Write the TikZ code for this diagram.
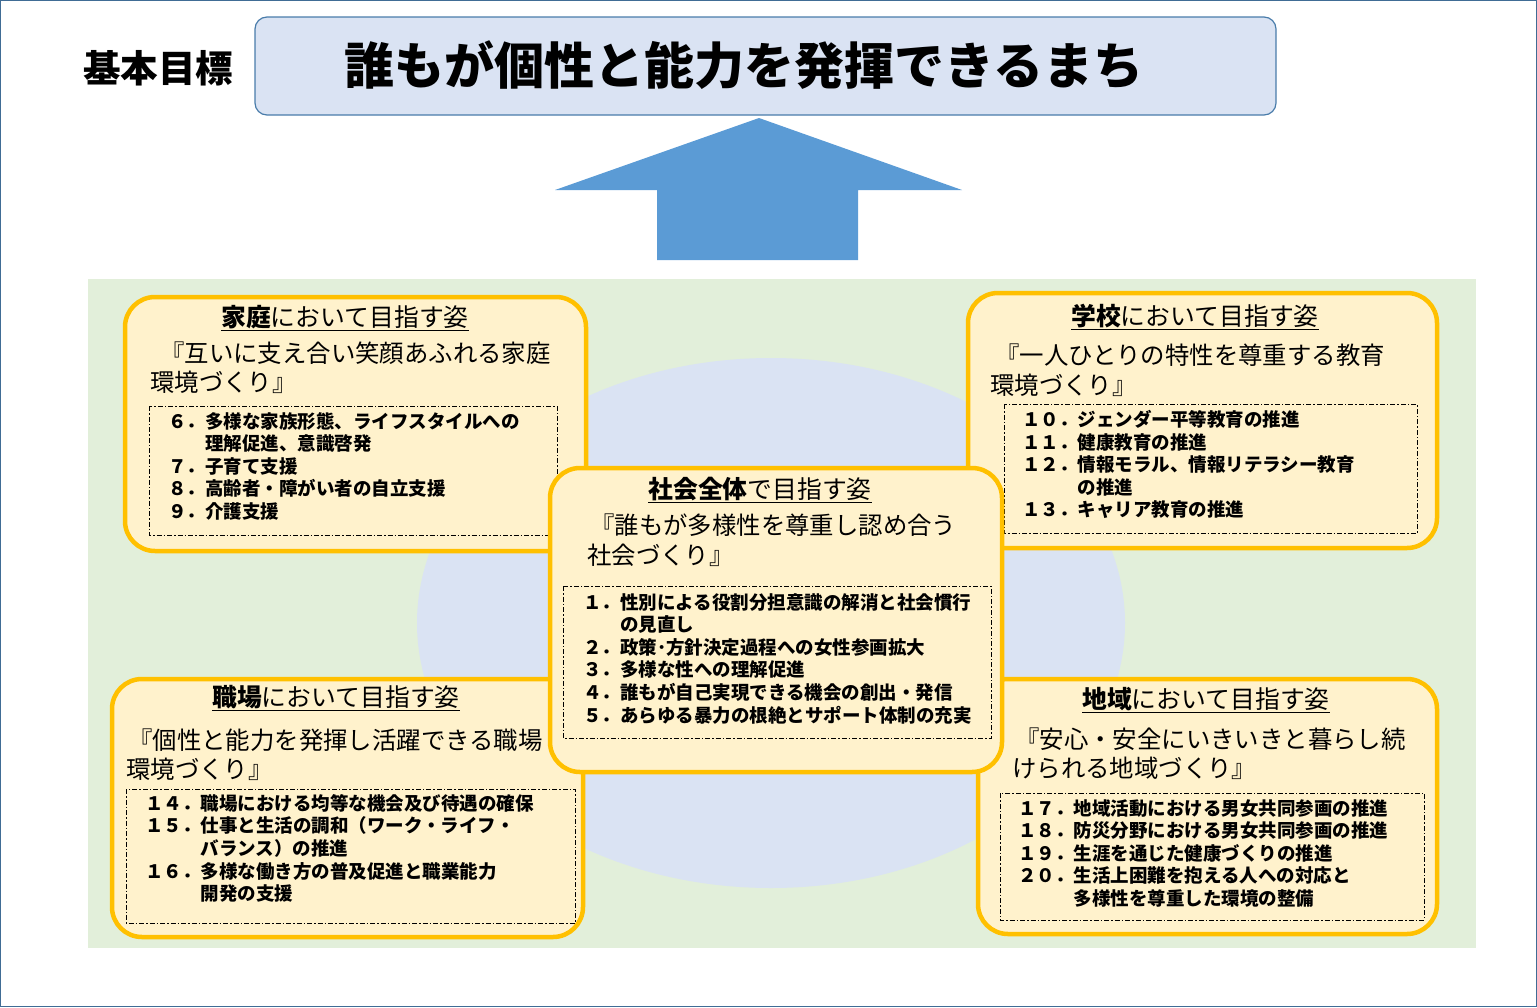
\documentclass[tikz,border=0pt]{standalone}
\usepackage{fontspec}
\setmainfont{Noto Sans CJK JP}
\begin{document}
\begin{tikzpicture}[x=1pt,y=-1pt,
 ybox/.style={draw=yel,line width=4.5pt,fill=yelf,rounded corners=30pt},
 dbox/.style={draw=black,line width=0.9pt,dash pattern=on 5pt off 2pt on 1.5pt off 2pt},
 head/.style={font=\fontsize{24.8}{28}\selectfont,inner sep=0},
 quote/.style={font=\fontsize{24.4}{28}\selectfont,anchor=west,inner sep=0},
 items/.style={font=\fontsize{18.5}{22.6}\selectfont\bfseries,anchor=north west,align=left,inner sep=0}]
\definecolor{yel}{HTML}{FFC000}\definecolor{yelf}{HTML}{FFF2CC}
\definecolor{blu}{HTML}{5B9BD5}\definecolor{lblue}{HTML}{DAE3F3}
\definecolor{grn}{HTML}{E2EFDA}
\newcommand{\ind}{\phantom{１０．}}
\path[draw=blu!70!black,line width=1pt] (0.5,0.5) rectangle (1536.5,1006.5);
\node[font=\fontsize{37.5}{40}\selectfont\bfseries] (kt) at (158,68) {基本目標};
\node[draw=blu!80!black,line width=1.2pt,fill=lblue,rounded corners=12pt,minimum width=1021pt,minimum height=98pt] (title) at (765.5,66) {};
\node[font=\fontsize{50}{54}\selectfont\bfseries] (tt) at (744,65) {誰もが個性と能力を発揮できるまち};
\fill[blu] (555,190) -- (759,118) -- (962,190) -- (858,190) -- (858,260) -- (657,260) -- (657,190) -- cycle;
\fill[grn] (88,279) rectangle (1476,948);
\fill[lblue] (771,623) ellipse [x radius=354pt,y radius=265pt];
% family
\draw[ybox] (125,297) rectangle (586,551);
\draw[dbox] (149,406) rectangle (557,535);
\node[head] (h1) at (345,318) {\underline{\textbf{家庭}において目指す姿}};
\node[quote] (q1a) at (160,353) {『互いに支え合い笑顔あふれる家庭};
\node[quote] (q1b) at (150,382) {環境づくり』};
\node[items] (i1) at (168,412) {６．多様な家族形態、ライフスタイルへの\\\phantom{６．}理解促進、意識啓発\\７．子育て支援\\８．高齢者・障がい者の自立支援\\９．介護支援};
% school
\draw[ybox] (968,293) rectangle (1437,548);
\draw[dbox] (1004,404) rectangle (1417,533);
\node[head] (h2) at (1195,317) {\underline{\textbf{学校}において目指す姿}};
\node[quote] (q2a) at (995,355) {『一人ひとりの特性を尊重する教育};
\node[quote] (q2b) at (990,385) {環境づくり』};
\node[items] (i2) at (1022,410) {１０．ジェンダー平等教育の推進\\１１．健康教育の推進\\１２．情報モラル、情報リテラシー教育\\\ind の推進\\１３．キャリア教育の推進};
% workplace
\draw[ybox] (112,679) rectangle (583,937);
\draw[dbox] (126,789) rectangle (575,923);
\node[head] (h4) at (336,698) {\underline{\textbf{職場}において目指す姿}};
\node[quote] (q4a) at (128,740) {『個性と能力を発揮し活躍できる職場};
\node[quote] (q4b) at (126,769) {環境づくり』};
\node[items] (i4) at (145,794) {１４．職場における均等な機会及び待遇の確保\\１５．仕事と生活の調和（ワーク・ライフ・\\\ind バランス）の推進\\１６．多様な働き方の普及促進と職業能力\\\ind 開発の支援};
% region
\draw[ybox] (978,679) rectangle (1437,934);
\draw[dbox] (1000,793) rectangle (1424,920);
\node[head] (h5) at (1206,700) {\underline{\textbf{地域}において目指す姿}};
\node[quote] (q5a) at (1015,739) {『安心・安全にいきいきと暮らし続};
\node[quote] (q5b) at (1012,768) {けられる地域づくり』};
\node[items] (i5) at (1018,799) {１７．地域活動における男女共同参画の推進\\１８．防災分野における男女共同参画の推進\\１９．生涯を通じた健康づくりの推進\\２０．生活上困難を抱える人への対応と\\\ind 多様性を尊重した環境の整備};
% center
\draw[ybox] (550,468) rectangle (1002,772);
\draw[dbox] (563,586) rectangle (991,738);
\node[head] (h3) at (760,490) {\underline{\textbf{社会全体}で目指す姿}};
\node[quote] (q3a) at (590,525) {『誰もが多様性を尊重し認め合う};
\node[quote] (q3b) at (587,555) {社会づくり』};
\node[items] (i3) at (583,593) {１．性別による役割分担意識の解消と社会慣行\\\phantom{１．}の見直し\\２．政策･方針決定過程への女性参画拡大\\３．多様な性への理解促進\\４．誰もが自己実現できる機会の創出・発信\\５．あらゆる暴力の根絶とサポート体制の充実};
\end{tikzpicture}
\end{document}
